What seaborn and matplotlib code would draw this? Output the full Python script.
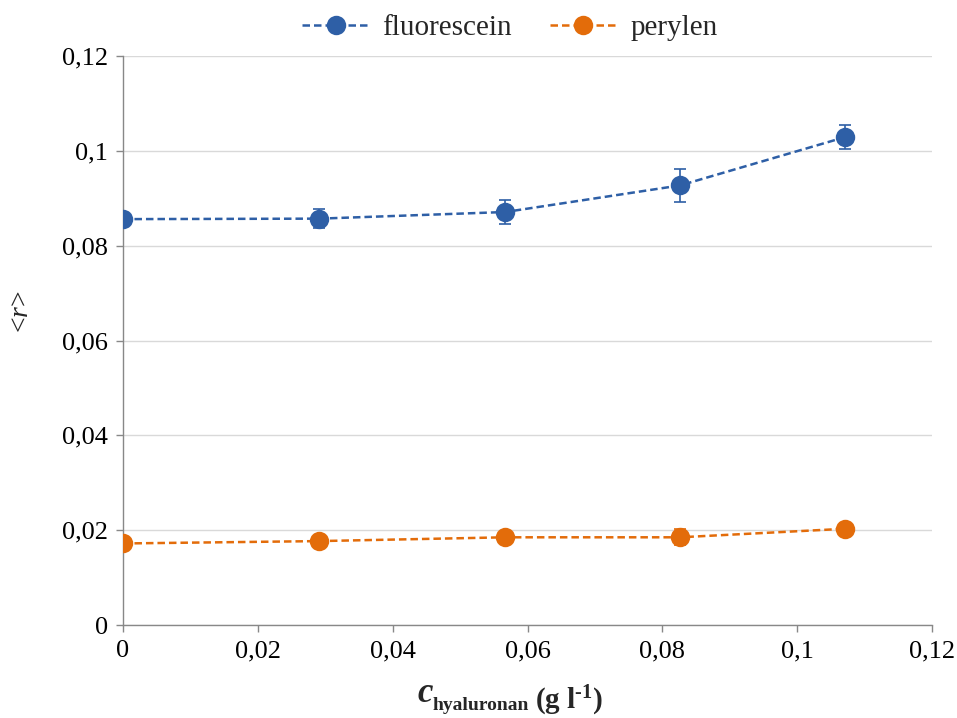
import matplotlib.pyplot as plt
import matplotlib.ticker as mtick
import numpy as np
import pandas as pd
import seaborn as sns

# ─── Data ───────────────────────────────────────────────────────────────────
conc = [0.0, 0.0291, 0.0567, 0.0826, 0.1071]
fluorescein = [0.0856, 0.0857, 0.0871, 0.0927, 0.1029]
fluorescein_err = [0.0008, 0.0020, 0.0026, 0.0034, 0.0025]
perylen = [0.0172, 0.0177, 0.0185, 0.0185, 0.0203]
perylen_err = [0.0006, 0.0007, 0.0009, 0.0017, 0.0012]
series_names = ["fluorescein", "perylen"]

PALETTE = {"fluorescein": "#2E5FA6", "perylen": "#E36C0A"}

sns.set_theme(style="white")
plt.rcParams["font.family"] = ["Liberation Serif", "DejaVu Serif"]
plt.rcParams["mathtext.fontset"] = "custom"
plt.rcParams["mathtext.rm"] = "Liberation Serif"
plt.rcParams["mathtext.it"] = "Liberation Serif:italic"
plt.rcParams["mathtext.bf"] = "Liberation Serif:bold"

df = pd.DataFrame({
    "c": conc * 2,
    "r": fluorescein + perylen,
    "err": fluorescein_err + perylen_err,
    "series": [series_names[0]] * len(conc) + [series_names[1]] * len(conc),
})

fig = plt.figure(figsize=(9.57, 7.18), dpi=100)
ax = fig.add_axes([0.1285, 0.1295, 0.8455, 0.7925])

for name in series_names:
    sub = df[df["series"] == name]
    col = PALETTE[name]
    ax.errorbar(sub["c"], sub["r"], yerr=sub["err"], fmt="none",
                ecolor=col, elinewidth=1.2, capsize=4.5, capthick=1.2, zorder=3)
    sns.lineplot(data=sub, x="c", y="r", ax=ax, color=col, linestyle=(0, (3, 1.6)),
                 linewidth=1.8, marker="o", markersize=14, markeredgewidth=0,
                 label=name, zorder=4)

ax.set_xlim(0, 0.12)
ax.set_ylim(0, 0.12)
ax.set_xticks(np.arange(0, 0.121, 0.02))
ax.set_yticks(np.arange(0, 0.121, 0.02))
fmt = mtick.FuncFormatter(lambda v, _: "0" if abs(v) < 1e-9 else f"{v:.2f}".rstrip("0").replace(".", ","))
ax.xaxis.set_major_formatter(fmt)
ax.yaxis.set_major_formatter(fmt)
ax.tick_params(axis="both", labelsize=19, colors="black", length=5, width=1,
               direction="out", bottom=True, left=True, pad=6)
ax.tick_params(axis="both", color="#888888")
ax.yaxis.grid(True, color="#D9D9D9", linewidth=1)
ax.xaxis.grid(False)
for side in ["top", "right"]:
    ax.spines[side].set_visible(False)
for side in ["left", "bottom"]:
    ax.spines[side].set_color("#888888")
    ax.spines[side].set_linewidth(1)

# x label built from pieces: large italic c, small bold subscript, unit
ax.set_xlabel("")
W, H = 957, 718
fig.text(417 / W, 1 - 702 / H, "c", fontsize=25, fontweight="bold", fontstyle="italic",
         va="baseline", ha="left")
fig.text(433 / W, 1 - 710 / H, "hyaluronan", fontsize=14, fontweight="bold",
         va="baseline", ha="left")
fig.text(535 / W, 1 - 709 / H, r"(g l$^{\mathbf{\text{-}1}}$)", fontsize=21, fontweight="bold",
         va="baseline", ha="left")

ax.set_ylabel(r"<$\mathbf{\mathit{r}}$>", fontsize=20)
ax.yaxis.set_label_coords(-0.110, 0.55)

ax.legend(loc="lower center", bbox_to_anchor=(0.478, 1.0), ncol=2, frameon=False,
          fontsize=21, handlelength=2.3, handletextpad=0.45, columnspacing=1.3, borderaxespad=0.1)

fig.savefig("out.png", dpi=100)
